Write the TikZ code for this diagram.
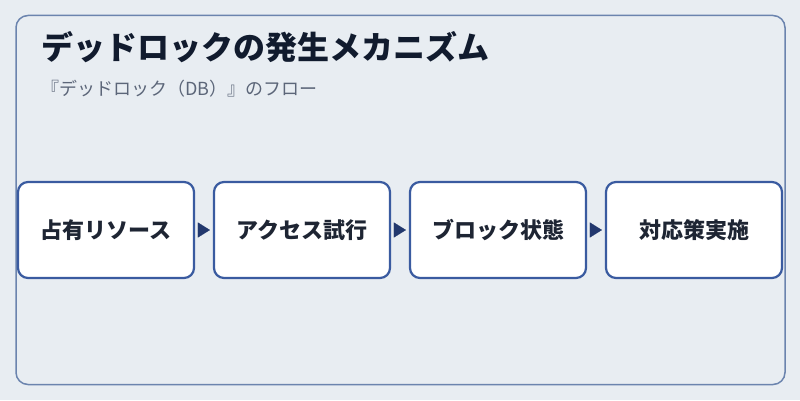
\documentclass[tikz,border=0pt]{standalone}
\usepackage{fontspec}
\setmainfont{Noto Sans CJK JP}
\usetikzlibrary{arrows.meta}
\usetikzlibrary{positioning}
\definecolor{bgcol}{HTML}{E8EDF2}
\definecolor{framecol}{HTML}{6B84AE}
\definecolor{boxcol}{HTML}{3A5BA0}
\definecolor{titlecol}{HTML}{111B2E}
\definecolor{subcol}{HTML}{5C6679}
\definecolor{tipcol}{HTML}{22386E}
\definecolor{textcol}{HTML}{1E2533}
\tikzset{
    stepbox/.style={
        rectangle, rounded corners=10pt,
        minimum width=176pt, minimum height=96pt,
        draw=boxcol, line width=2.2pt,
        fill=white,
        text=textcol, font=\fontsize{22pt}{25pt}\selectfont\bfseries,
    },
    flow/.style={
        draw=tipcol, line width=0.1pt,
        -{Triangle[length=12pt,width=15pt]},
        shorten >=3pt, shorten <=3pt,
        fill=tipcol,
    },
}

\begin{document}
\begin{tikzpicture}[x=1pt, y=1pt]
        \useasboundingbox[fill=bgcol] (0,0) rectangle (800,400);

        \node (frame) at(400.5,200) [
            rectangle, rounded corners=12pt,
            minimum width=769pt, minimum height=369pt,
            draw=framecol, line width=1.5pt,
        ] {};

        \node (title) at(41,341) [
            anchor=base west, inner sep=0pt,
            text=titlecol,
            font=\fontsize{32pt}{35pt}\selectfont\bfseries,
        ] {デッドロックの発生メカニズム};
        \node (subtitle) at(41,305) [
            anchor=base west, inner sep=0pt,
            text=subcol,
            font=\fontsize{18pt}{21pt}\selectfont,
        ] {『デッドロック（DB）』のフロー};

        \node (hold) at(106,170) [stepbox] {占有リソース};
        \node (access) [stepbox, right=17.8pt of hold] {アクセス試行};
        \node (block) [stepbox, right=17.8pt of access] {ブロック状態};
        \node (remedy) [stepbox, right=17.8pt of block] {対応策実施};

        \draw[flow] (hold) -- (access);
        \draw[flow] (access) -- (block);
        \draw[flow] (block) -- (remedy);
    \end{tikzpicture}
\end{document}
